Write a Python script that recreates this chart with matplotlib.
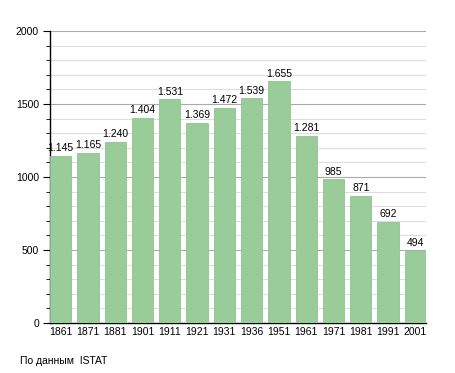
import numpy as np
import matplotlib
matplotlib.use("Agg")
import matplotlib.pyplot as plt
from matplotlib.ticker import MultipleLocator

years = ["1861", "1871", "1881", "1901", "1911", "1921", "1931", "1936",
         "1951", "1961", "1971", "1981", "1991", "2001"]
population = [1145, 1165, 1240, 1404, 1531, 1369, 1472, 1539,
              1655, 1281, 985, 871, 692, 494]

plt.rcParams["font.family"] = ["Liberation Sans", "DejaVu Sans"]

fig = plt.figure(figsize=(4.55, 3.73), dpi=100)
ax = fig.add_axes([50 / 455, 50 / 373, 376 / 455, 292 / 373])

x = np.arange(len(years))
w = 0.78
ax.bar(x, population, width=w, align="edge", color="#99cc99",
       edgecolor="#8fc48f", linewidth=0.6, zorder=3)

for xi, v in zip(x, population):
    lbl = f"{v:,}".replace(",", ".")
    ax.text(xi + w / 2, v + 18, lbl, ha="center", va="bottom",
            fontsize=7.5, zorder=4)

ax.set_xlim(0, len(years) - 1 + w)
ax.set_ylim(0, 2000)
ax.set_xticks(x + w / 2)
ax.set_xticklabels(years)
ax.yaxis.set_major_locator(MultipleLocator(500))
ax.yaxis.set_minor_locator(MultipleLocator(100))
ax.grid(axis="y", which="major", color="#aaaaaa", lw=0.8, zorder=1)
ax.grid(axis="y", which="minor", color="#dddddd", lw=0.8, zorder=1)

for s in ["top", "right"]:
    ax.spines[s].set_visible(False)
ax.spines["left"].set_linewidth(1.0)
ax.spines["bottom"].set_linewidth(1.0)
ax.tick_params(axis="x", length=0, labelsize=7.5, pad=3)
ax.tick_params(axis="y", which="major", length=5, labelsize=7.5, pad=3)
ax.tick_params(axis="y", which="minor", length=3)

fig.text(20 / 455, 1 - 361 / 373, "По данным  ISTAT", fontsize=7.5,
         va="center", ha="left")

fig.savefig("out.png", dpi=100)
